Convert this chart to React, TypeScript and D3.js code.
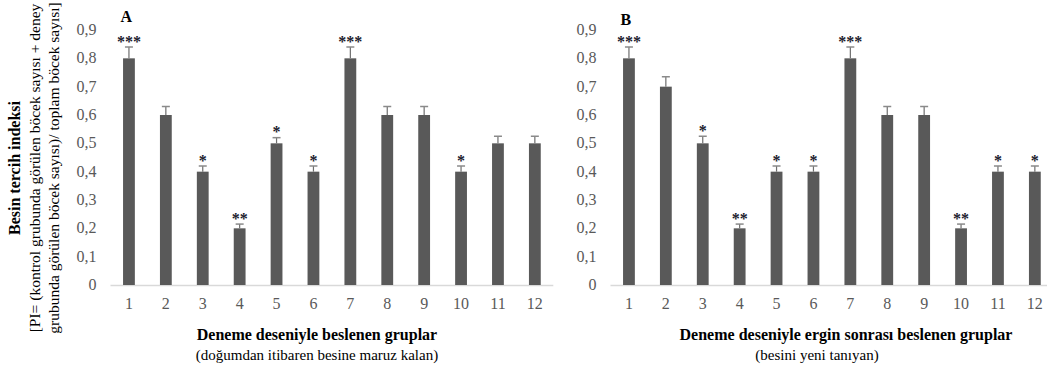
import React from "react";
import * as d3 from "d3";

const groups = ["1", "2", "3", "4", "5", "6", "7", "8", "9", "10", "11", "12"];
const valuesA = [0.8, 0.6, 0.4, 0.2, 0.5, 0.4, 0.8, 0.6, 0.6, 0.4, 0.5, 0.5];
const errorsA = [0.04, 0.03, 0.02, 0.015, 0.02, 0.02, 0.04, 0.03, 0.03, 0.02, 0.025, 0.025];
const starsA = ["***", "", "*", "**", "*", "*", "***", "", "", "*", "", ""];
const valuesB = [0.8, 0.7, 0.5, 0.2, 0.4, 0.4, 0.8, 0.6, 0.6, 0.2, 0.4, 0.4];
const errorsB = [0.04, 0.035, 0.025, 0.015, 0.02, 0.02, 0.04, 0.03, 0.03, 0.015, 0.02, 0.02];
const starsB = ["***", "", "*", "**", "*", "*", "***", "", "", "**", "*", "*"];
const yTicks = [0, 0.1, 0.2, 0.3, 0.4, 0.5, 0.6, 0.7, 0.8, 0.9];

const serif = "'Liberation Serif', 'Times New Roman', serif";
const barColor = "#595959";
const tickColor = "#595959";
const ff = { fontFamily: serif };

const yScale = d3.scaleLinear().domain([0, 0.9]).range([285, 30]);
const fmt = (d: number) => (d === 0 ? "0" : d3.format(".1f")(d).replace(".", ","));

function Panel({ x0, letter, values, errors, stars, title, subtitle, titleX, subX, letterY }: any) {
  const xScale = d3.scaleBand().domain(groups).range([x0, x0 + 12 * 36.9]).paddingInner(0.68).paddingOuter(0.34);
  const bw = xScale.bandwidth();
  return (
    <g>
      {yTicks.map((t) => (
        <text key={t} x={x0 - 14} y={yScale(t) + 5} textAnchor="end" fontSize={16} fill={tickColor} style={ff}>
          {fmt(t)}
        </text>
      ))}
      <line x1={x0} x2={x0 + 12 * 36.9} y1={yScale(0) + 0.5} y2={yScale(0) + 0.5} stroke="#d9d9d9" strokeWidth={1.5} />
      {groups.map((g, i) => {
        const cx = (xScale(g) as number) + bw / 2;
        const top = yScale(values[i]);
        const cap = yScale(values[i] + errors[i]);
        return (
          <g key={g}>
            <rect x={xScale(g)} y={top} width={bw} height={yScale(0) - top} fill={barColor} />
            <line x1={cx} x2={cx} y1={top} y2={cap} stroke="#6e6e6e" strokeWidth={1.2} />
            <line x1={cx - 4} x2={cx + 4} y1={cap} y2={cap} stroke="#8a8a8a" strokeWidth={1.5} />
            {stars[i] && (
              <text x={cx} y={cap - 0.5} textAnchor="middle" fontSize={16} fontWeight="bold" fill="#1c1c2e" style={ff}>
                {stars[i]}
              </text>
            )}
            <text x={cx} y={309} textAnchor="middle" fontSize={16} fill={tickColor} style={ff}>
              {g}
            </text>
          </g>
        );
      })}
      <text x={x0 + 10} y={letterY} fontSize={16} fontWeight="bold" fill="#000" style={ff}>
        {letter}
      </text>
      <text x={titleX} y={340} textAnchor="middle" fontSize={16} fontWeight="bold" fill="#000" style={ff}>
        {title}
      </text>
      <text x={subX} y={360} textAnchor="middle" fontSize={15} fill="#000" style={ff}>
        {subtitle}
      </text>
    </g>
  );
}

export default function App() {
  return (
    <svg width={1047} height={371} style={{ position: "absolute", left: 0, top: 0, fontFamily: serif }}>
      <rect width={1047} height={371} fill="#fff" />
      <g transform="translate(0,168) rotate(-90)" fill="#000">
        <text x={0} y={20} textAnchor="middle" fontWeight="bold" fontSize={16} style={ff}>
          Besin tercih indeksi
        </text>
        <text x={0} y={40} textAnchor="middle" fontSize={15.5} style={ff}>
          [PI= (kontrol grubunda görülen böcek sayısı + deney
        </text>
        <text x={0} y={59} textAnchor="middle" fontSize={15.5} style={ff}>
          grubunda görülen böcek sayısı)/ toplam böcek sayısı]
        </text>
      </g>
      <Panel
        x0={110.5}
        letter="A"
        letterY={22}
        values={valuesA}
        errors={errorsA}
        stars={starsA}
        title="Deneme deseniyle beslenen gruplar"
        subtitle="(doğumdan itibaren besine maruz kalan)"
        titleX={317}
        subX={317}
      />
      <Panel
        x0={610.5}
        letter="B"
        letterY={25}
        values={valuesB}
        errors={errorsB}
        stars={starsB}
        title="Deneme deseniyle ergin sonrası beslenen gruplar"
        subtitle="(besini yeni tanıyan)"
        titleX={846}
        subX={817}
      />
    </svg>
  );
}
